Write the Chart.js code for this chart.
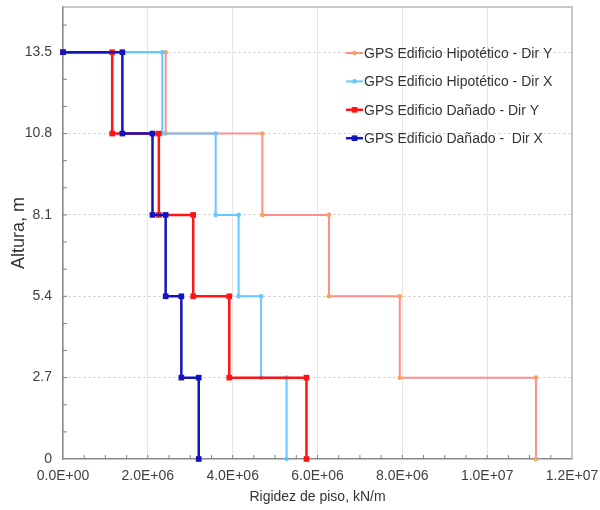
<!DOCTYPE html>
<html>
<head>
<meta charset="utf-8">
<script src="https://cdn.jsdelivr.net/npm/chart.js@4.4.1/dist/chart.umd.min.js"></script>
<style>
  html, body { margin: 0; padding: 0; background: #fff; }
</style>
</head>
<body>
<canvas id="chart" width="600" height="510"></canvas>
<script>
// floor levels, m (ground to roof)
var heights = [0, 2.7, 5.4, 8.1, 10.8, 13.5];
// story stiffness, kN/m, story 1 (bottom) to story 5 (top)
var hipY = [11.15e6, 7.94e6, 6.27e6, 4.70e6, 2.42e6];
var hipX = [5.27e6, 4.67e6, 4.14e6, 3.60e6, 2.34e6];
var danY = [5.74e6, 3.92e6, 3.07e6, 2.26e6, 1.16e6];
var danX = [3.20e6, 2.79e6, 2.42e6, 2.11e6, 1.40e6];
var labels = ['GPS Edificio Hipotético - Dir Y', 'GPS Edificio Hipotético - Dir X',
              'GPS Edificio Dañado - Dir Y', 'GPS Edificio Dañado -  Dir X'];
var xTicks = [0, 2e6, 4e6, 6e6, 8e6, 1e7, 1.2e7];
var xMinorStep = 5e5;
var yMinorStep = 0.9;

Chart.defaults.font.family = '"Liberation Sans", Arial, sans-serif';
Chart.defaults.color = '#404040';

// turn story stiffness into a step profile: start at roof, go down story by story
function stepPoints(k) {
  var top = heights[heights.length - 1];
  var pts = [{ x: 0, y: top }];
  for (var i = k.length - 1; i >= 0; i--) {
    pts.push({ x: k[i], y: heights[i + 1] });
    pts.push({ x: k[i], y: heights[i] });
  }
  return pts;
}

function sci(v) {
  if (v === 0) return '0.0E+00';
  var e = Math.floor(Math.log10(v) + 1e-9);
  var m = v / Math.pow(10, e);
  return m.toFixed(1) + 'E+' + String(e).padStart(2, '0');
}

function drawMarker(c, style, r, x, y) {
  c.beginPath();
  if (style === 'rect') {
    var s = r * Math.SQRT1_2;
    c.rect(x - s, y - s, 2 * s, 2 * s);
  } else {
    c.arc(x, y, r, 0, Math.PI * 2);
  }
  c.fill();
}

var framePlugin = {
  id: 'frame',
  beforeDatasetsDraw: function (chart) {
    var a = chart.chartArea, c = chart.ctx, xs = chart.scales.x, ys = chart.scales.y;
    c.save();
    c.strokeStyle = '#b8b8b8';
    c.lineWidth = 1.5;
    c.beginPath();
    c.moveTo(a.left, a.top);
    c.lineTo(a.right, a.top);
    c.lineTo(a.right, a.bottom);
    c.stroke();
    // little inward minor ticks
    c.strokeStyle = '#808080';
    c.lineWidth = 1;
    c.beginPath();
    for (var v = xMinorStep; v < xs.max; v += xMinorStep) {
      var px = xs.getPixelForValue(v);
      c.moveTo(px, a.bottom);
      c.lineTo(px, a.bottom - 4);
    }
    for (var i = 1; i * yMinorStep < ys.max; i++) {
      var py = ys.getPixelForValue(i * yMinorStep);
      c.moveTo(a.left, py);
      c.lineTo(a.left + 4, py);
    }
    c.stroke();
    c.restore();
  },
  afterDraw: function (chart) {
    var a = chart.chartArea, c = chart.ctx;
    var lx = a.right - 226, ly = a.top + 46, gap = 28.4;
    c.save();
    chart.data.datasets.forEach(function (ds, i) {
      var y = ly + i * gap;
      c.strokeStyle = ds.borderColor;
      c.lineWidth = ds.borderWidth;
      c.beginPath();
      c.moveTo(lx, y);
      c.lineTo(lx + 17, y);
      c.stroke();
      c.fillStyle = ds.pointBackgroundColor;
      drawMarker(c, ds.pointStyle, ds.pointRadius, lx + 8.5, y);
      c.fillStyle = '#333';
      c.font = '14px "Liberation Sans", Arial, sans-serif';
      c.textBaseline = 'middle';
      c.fillText(ds.label, lx + 18, y + 1);
    });
    c.restore();
  }
};

var ctx = document.getElementById('chart').getContext('2d');
var myChart = new Chart(ctx, {
  type: 'scatter',
  data: {
    datasets: [
      { label: labels[0], data: stepPoints(hipY), showLine: true, borderColor: '#ff8e8e', borderWidth: 2,
        pointStyle: 'circle', pointRadius: 2.3, pointBackgroundColor: '#f9a05a', pointBorderWidth: 0, order: 4, clip: false },
      { label: labels[1], data: stepPoints(hipX), showLine: true, borderColor: '#66c8ff', borderWidth: 2,
        pointStyle: 'circle', pointRadius: 2.3, pointBackgroundColor: '#66c8ff', pointBorderWidth: 0, order: 3, clip: false },
      { label: labels[2], data: stepPoints(danY), showLine: true, borderColor: '#ff1414', borderWidth: 2.5,
        pointStyle: 'rect', pointRadius: 4, pointBackgroundColor: '#ff1414', pointBorderWidth: 0, order: 2, clip: false },
      { label: labels[3], data: stepPoints(danX), showLine: true, borderColor: '#1414bc', borderWidth: 2.5,
        pointStyle: 'rect', pointRadius: 4, pointBackgroundColor: '#1414bc', pointBorderWidth: 0, order: 1, clip: false }
    ]
  },
  options: {
    responsive: false,
    animation: false,
    layout: { padding: { top: 7, right: 28, left: 0, bottom: 0 } },
    plugins: { legend: { display: false }, tooltip: { enabled: false } },
    elements: { line: { tension: 0 } },
    scales: {
      x: {
        type: 'linear', min: 0, max: 1.2e7,
        afterBuildTicks: function (s) { s.ticks = xTicks.map(function (v) { return { value: v }; }); },
        afterFit: function (s) { s.height = 51; s.paddingLeft = 0; s.paddingRight = 0; },
        ticks: { callback: sci, autoSkip: false, maxRotation: 0, padding: 9, font: { size: 14 } },
        grid: { color: '#e6e6e6', drawTicks: false },
        border: { color: '#8a8a8a', width: 1.5 },
        title: { display: true, text: 'Rigidez de piso, kN/m', font: { size: 14 }, color: '#333', padding: { bottom: 4, top: 0 } }
      },
      y: {
        type: 'linear', min: 0, max: 15,
        afterBuildTicks: function (s) {
          var t = [];
          for (var i = 0; i * yMinorStep < s.max; i++) t.push({ value: Math.round(i * yMinorStep * 10) / 10 });
          s.ticks = t;
        },
        afterFit: function (s) { s.width = 63; s.paddingTop = 0; s.paddingBottom = 0; },
        ticks: {
          autoSkip: false, padding: 11, font: { size: 14 },
          callback: function (v) { return heights.indexOf(v) >= 0 ? String(v) : ''; }
        },
        grid: {
          drawTicks: false,
          color: function (c) { return (c.tick && c.tick.value > 0 && heights.indexOf(c.tick.value) >= 0) ? '#c4c4c4' : 'transparent'; }
        },
        border: { color: '#8a8a8a', width: 1.5, dash: [2, 3] },
        title: { display: true, text: 'Altura, m', font: { size: 18 }, color: '#333', padding: { top: 8, bottom: 0 } }
      }
    }
  },
  plugins: [framePlugin]
});
</script>
</body>
</html>
